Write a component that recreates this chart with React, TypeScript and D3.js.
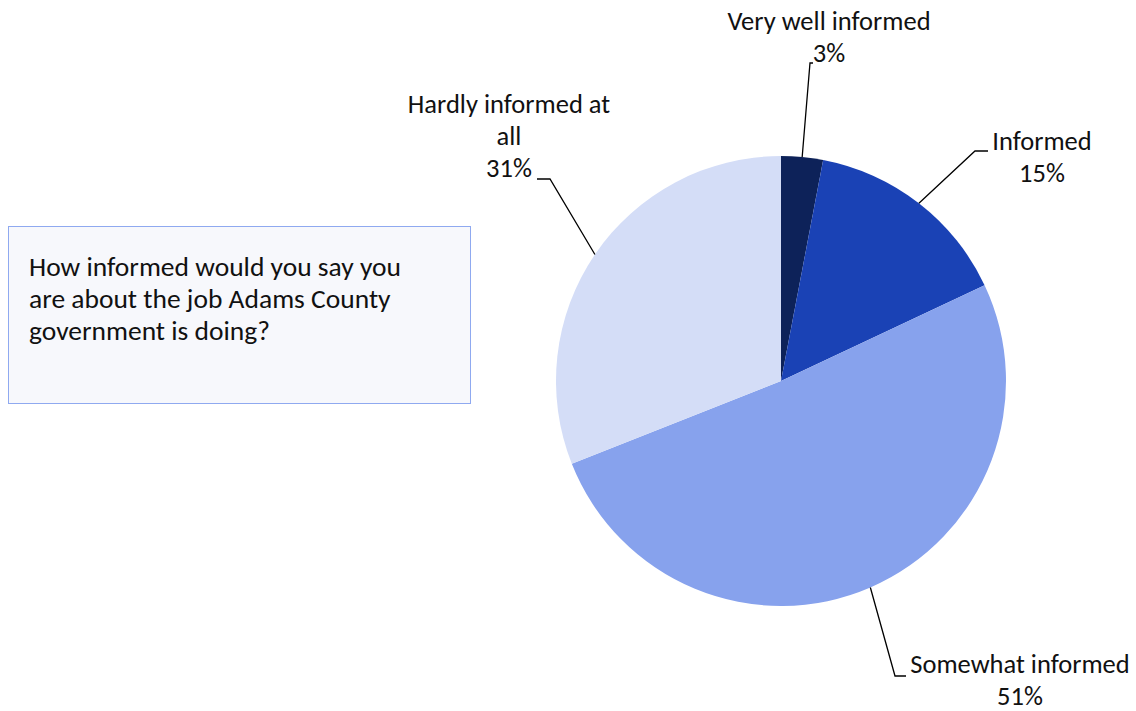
import React from "react";
import * as d3 from "d3";

const categories = ["Very well informed", "Informed", "Somewhat informed", "Hardly informed at all"];
const values = [3, 15, 51, 31];
const colors = ["#0d2259", "#1a42b5", "#87a2ed", "#d4ddf7"];
const labelLines = [["Very well informed", "3%"], ["Informed", "15%"], ["Somewhat informed", "51%"], ["Hardly informed at", "all", "31%"]];
const question = ["How informed would you say you", "are about the job Adams County", "government is doing?"];

// layout of labels (positions only)
const labelLayout = [
  { elbow: [810, 63], end: [813, 63], x: 829, y: 30, anchor: "middle" },
  { elbow: [975, 151], end: [988, 151], x: 1042, y: 150, anchor: "middle" },
  { elbow: [895, 676], end: [906, 676], x: 1020, y: 673, anchor: "middle" },
  { elbow: [550, 179], end: [537, 179], x: 509, y: 113, anchor: "middle" },
];

export default function App() {
  const W = 1136, H = 711;
  const cx = 781, cy = 381, r = 225;
  const pie = d3.pie<number>().sort(null).value((d) => d);
  const arcs = pie(values);
  const arcGen = d3.arc<d3.PieArcDatum<number>>().innerRadius(0).outerRadius(r);
  const font = "Carlito, Lato, 'Open Sans', sans-serif";
  return (
    <svg width={W} height={H} style={{ position: "absolute", left: 0, top: 0 }} fontFamily={font}>
      <rect width={W} height={H} fill="#fff" />
      <g transform={`translate(${cx},${cy})`}>
        {arcs.map((a, i) => (
          <path key={i} d={arcGen(a) || ""} fill={colors[i]} />
        ))}
      </g>
      {arcs.map((a, i) => {
        const mid = (a.startAngle + a.endAngle) / 2;
        const px = cx + r * Math.sin(mid);
        const py = cy - r * Math.cos(mid);
        const L = labelLayout[i];
        return (
          <g key={i}>
            <polyline
              points={`${px},${py} ${L.elbow[0]},${L.elbow[1]} ${L.end[0]},${L.end[1]}`}
              fill="none"
              stroke="#000"
              strokeWidth={1.3}
            />
            {labelLines[i].map((t, j) => (
              <text key={j} x={L.x} y={L.y + j * 32} textAnchor={L.anchor as any} fontSize={26.5} fill="#111">
                {t}
              </text>
            ))}
          </g>
        );
      })}
      <rect x={8.5} y={226.5} width={462} height={177} fill="#f7f8fc" stroke="#8fa9f0" strokeWidth={1} />
      {question.map((t, j) => (
        <text key={j} x={29} y={276 + j * 32} fontSize={27.5} fill="#111">
          {t}
        </text>
      ))}
    </svg>
  );
}
